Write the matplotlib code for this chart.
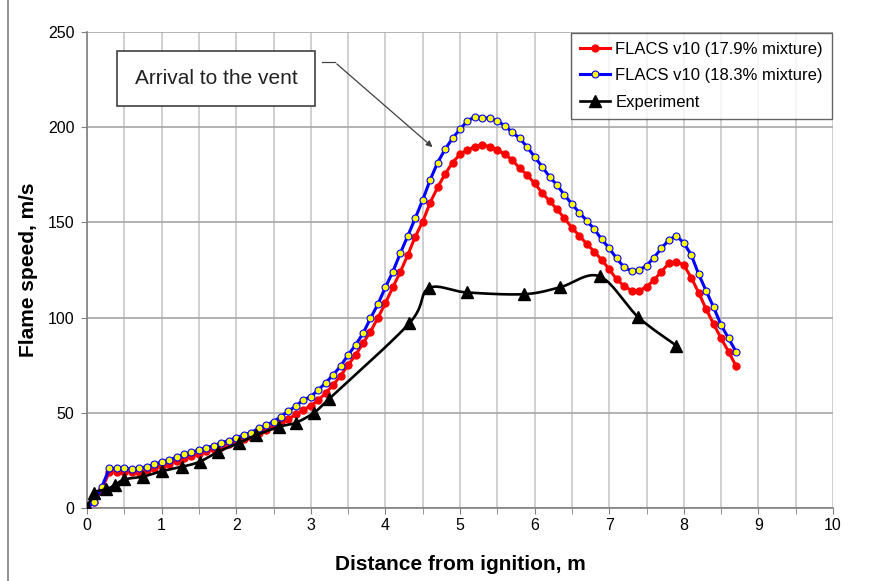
import numpy as np
import matplotlib.pyplot as plt
from matplotlib.lines import Line2D

plt.rcParams['font.family'] = ['Liberation Sans', 'DejaVu Sans']

# FLACS sample positions, m
x_flacs = [0.0, 0.1, 0.2, 0.3, 0.4, 0.5, 0.6, 0.7, 0.8, 0.9,
           1.0, 1.1, 1.2, 1.3, 1.4, 1.5, 1.6, 1.7, 1.8, 1.9,
           2.0, 2.1, 2.2, 2.3, 2.4, 2.5, 2.6, 2.7, 2.8, 2.9,
           3.0, 3.1, 3.2, 3.3, 3.4, 3.5, 3.6, 3.7, 3.8, 3.9,
           4.0, 4.1, 4.2, 4.3, 4.4, 4.5, 4.6, 4.7, 4.8, 4.9,
           5.0, 5.1, 5.2, 5.3, 5.4, 5.5, 5.6, 5.7, 5.8, 5.9,
           6.0, 6.1, 6.2, 6.3, 6.4, 6.5, 6.6, 6.7, 6.8, 6.9,
           7.0, 7.1, 7.2, 7.3, 7.4, 7.5, 7.6, 7.7, 7.8, 7.9,
           8.0, 8.1, 8.2, 8.3, 8.4, 8.5, 8.6, 8.7]

# FLACS v10, 17.9% mixture
v_179 = [0, 3, 10, 19, 19, 19, 18.8, 19, 19.8, 21,
         22.3, 23.3, 24.7, 26.2, 27.3, 28.6, 29.8, 30.8, 32.3, 33.4,
         34.9, 36.2, 37.5, 39.5, 41.2, 42.9, 45.3, 46.8, 49.2, 51.5,
         53.8, 56.5, 60.5, 64.6, 69.5, 75, 80.4, 86.5, 92.6, 100,
         107.5, 116, 124, 132.9, 142.5, 150.4, 160.4, 168.4, 175.4, 181.4,
         185.8, 188, 189.8, 190.7, 189.8, 188, 185.8, 182.8, 178.4, 174.9,
         170.5, 165.6, 161.2, 156.9, 152.2, 147.2, 142.9, 138.7, 134.6, 130.3,
         125.4, 120.1, 116.6, 114.1, 114.1, 116.2, 119.7, 124.1, 128.5, 129.4,
         127.6, 121, 113, 104.4, 96.6, 89.1, 82.1, 74.6]

# FLACS v10, 18.3% mixture
v_183 = [0, 3.3, 11.2, 20.8, 20.8, 20.8, 20.5, 20.8, 21.7, 22.9,
         24.2, 25.2, 26.6, 28.2, 29.2, 30.5, 31.7, 32.7, 34.3, 35.4,
         37, 38.3, 39.6, 41.8, 43.6, 45.3, 48, 50.9, 53.6, 56.7,
         58.5, 62, 65.8, 69.9, 74.6, 80.4, 85.6, 91.7, 99.6, 107.1,
         115.9, 124.1, 133.8, 142.9, 152.2, 161.8, 172.3, 181.4, 188.4, 194.2,
         198.9, 203.3, 205.5, 205, 204.7, 203.3, 200.8, 197.3, 194.2, 189.6,
         184.5, 179.3, 174, 169.6, 164.4, 159.7, 155.1, 150.9, 146.4, 141.1,
         136.4, 131.1, 126.4, 124.5, 125, 127.3, 131.5, 136.4, 140.8, 143,
         139.2, 132.9, 122.7, 114, 105.4, 96.1, 89.1, 82.1]

# experiment
x_exp = [0, 0.1, 0.26, 0.37, 0.5, 0.75, 1.01, 1.28, 1.51, 1.76, 2.04, 2.27,
         2.58, 2.8, 3.04, 3.24, 4.32, 4.58, 5.09, 5.86, 6.34, 6.87, 7.39, 7.9]
v_exp = [0, 8, 9.8, 12, 15, 16.5, 19.4, 21.7, 24.3, 29.6, 34.2, 38.3,
         42.7, 44.8, 50, 57.1, 97, 115.4, 113.2, 112.3, 115.9, 121.7, 100.2, 85.3]


def smooth(x, y, n=20):
    # сглаженная линия как в Excel (Безье через соседние точки)
    x = np.asarray(x, float)
    y = np.asarray(y, float)
    px = np.concatenate([[x[0]], x, [x[-1]]])
    py = np.concatenate([[y[0]], y, [y[-1]]])
    t = np.linspace(0, 1, n)[:, None]
    xs, ys = [], []
    for i in range(1, len(px) - 2):
        p0 = np.array([px[i], py[i]])
        p3 = np.array([px[i + 1], py[i + 1]])
        p1 = p0 + (np.array([px[i + 1], py[i + 1]]) - np.array([px[i - 1], py[i - 1]])) / 6
        p2 = p3 - (np.array([px[i + 2], py[i + 2]]) - np.array([px[i], py[i]])) / 6
        b = ((1 - t) ** 3) * p0 + 3 * ((1 - t) ** 2) * t * p1 + 3 * (1 - t) * t ** 2 * p2 + t ** 3 * p3
        xs.extend(b[:, 0])
        ys.extend(b[:, 1])
    return xs, ys


fig = plt.figure(figsize=(8.8, 5.81), dpi=100)
ax = fig.add_axes([87 / 880, 73 / 581, 746 / 880, 476 / 581])

ax.plot(x_flacs, v_179, color='#ff0000', lw=2.2, marker='o', ms=5,
        mfc='#ff0000', mec='#ff0000', zorder=3)
ax.plot(x_flacs, v_183, color='#0000ff', lw=2.2, marker='o', ms=5,
        mfc='#ffff00', mec='#0000ff', mew=0.8, zorder=4)
sx, sy = smooth(x_exp, v_exp)
ax.plot(sx, sy, color='black', lw=1.9, zorder=5)
ax.plot(x_exp, v_exp, ls='none', marker='^', ms=9, color='black', zorder=6)

ax.set_xlim(0, 10)
ax.set_ylim(0, 250)
ax.set_xticks(range(0, 11))
ax.set_xticks(np.arange(0, 10.5, 0.5), minor=True)
ax.set_yticks(range(0, 251, 50))
ax.xaxis.grid(True, which='both', color='#c8c8c8', lw=1.2)
ax.yaxis.grid(True, color='#a6a6a6', lw=1.2)
ax.set_axisbelow(True)
for s in ['top', 'right']:
    ax.spines[s].set_visible(False)
for s in ['left', 'bottom']:
    ax.spines[s].set_color('#808080')
    ax.spines[s].set_linewidth(1.2)
ax.tick_params(axis='both', which='both', direction='out', length=4, color='#808080',
               labelsize=11.5, labelcolor='black')
ax.tick_params(axis='x', pad=3)
ax.tick_params(axis='y', pad=5)

ax.set_xlabel('Distance from ignition, m', fontsize=15, fontweight='bold', labelpad=16)
ax.set_ylabel('Flame speed, m/s', fontsize=15, fontweight='bold', labelpad=7)

handles = [
    Line2D([], [], color='#ff0000', lw=2.2, marker='o', ms=5, mfc='#ff0000', mec='#ff0000'),
    Line2D([], [], color='#0000ff', lw=2.2, marker='o', ms=5, mfc='#ffff00', mec='#0000ff', mew=0.8),
    Line2D([], [], color='black', lw=1.9, marker='^', ms=8),
]
leg = ax.legend(handles, ['FLACS v10 (17.9% mixture)', 'FLACS v10 (18.3% mixture)', 'Experiment'],
                loc='upper right', bbox_to_anchor=(1, 1), borderaxespad=0.05, fontsize=12,
                frameon=True, fancybox=False, handlelength=1.8, labelspacing=0.68,
                handletextpad=0.3, borderpad=0.55)
leg.get_frame().set_edgecolor('#404040')
leg.get_frame().set_linewidth(1.0)
leg.set_zorder(10)

# выноска "Arrival to the vent"
ax.text(1.73, 225.5, 'Arrival to the vent', fontsize=15, color='#222222', ha='center', va='center',
        bbox=dict(boxstyle='square,pad=0.85', fc='white', ec='#404040', lw=1.2), zorder=9)
ax.plot([3.15, 3.32], [234.2, 234.2], color='#404040', lw=0.9, zorder=9)
ax.annotate('', xy=(4.66, 188.6), xytext=(3.32, 234.2),
            arrowprops=dict(arrowstyle='-|>', color='#404040', lw=0.9, mutation_scale=9),
            zorder=9)

# рамка области диаграммы слева
fig.add_artist(Line2D([8 / 880, 8 / 880], [0, 1], color='#808080', lw=1.2))

fig.savefig('out.png', dpi=100)
